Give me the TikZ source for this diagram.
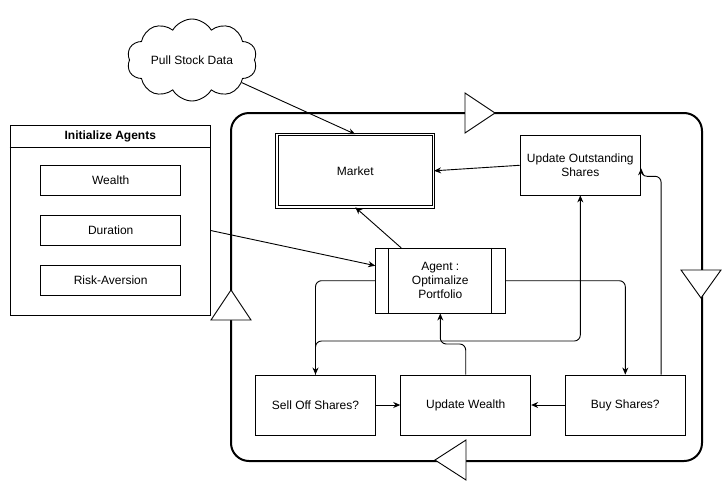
\documentclass[tikz,border=0pt]{standalone}
\usepackage{fontspec}
\setmainfont{Liberation Sans}
\usetikzlibrary{arrows.meta,shapes.symbols}

\begin{document}
\begin{tikzpicture}[x=1pt, y=-1pt, line width=0.9pt,
  every node/.style={font=\fontsize{12}{14}\selectfont, inner sep=0pt, align=center},
  stepbox/.style={draw, minimum width=120pt, minimum height=60pt},
  attrbox/.style={draw, minimum width=140pt, minimum height=29.5pt},
  linkarrow/.style={-{Stealth[length=7pt,width=6pt]}, rounded corners=6pt},
  tri/.style={draw, fill=white, line join=miter}]

  \useasboundingbox (0,0) rectangle (722,490);

  % trading loop
  \draw[line width=2pt, rounded corners=18pt] (231,113) rectangle (702,461);
  \draw[tri] (465,93) -- (495,113) -- (465,133) -- cycle;
  \draw[tri] (681,270) -- (721,270) -- (701,298) -- cycle;
  \draw[tri] (466,440) -- (435,460) -- (466,480) -- cycle;
  \draw[tri] (211,320) -- (231,290) -- (251,320) -- cycle;

  \node[draw, cloud, cloud puffs=10, cloud puff arc=120, aspect=1.8,
        minimum width=130pt, minimum height=74pt] (cloud) at (192,60) {Pull Stock Data};

  % agent set-up
  \node[draw, minimum width=200.7pt, minimum height=190pt] (init) at (110.3,220) {};
  \draw ([yshift=-23.3pt]init.north west) -- ([yshift=-23.3pt]init.north east);
  \node[font=\fontsize{12}{14}\selectfont\bfseries] (title) at (110.3,136.7) {Initialize Agents};
  \node[attrbox] (wealthattr) at (110.7,180.3) {Wealth};
  \node[attrbox] (duration) at (110.7,230.3) {Duration};
  \node[attrbox] (risk) at (110.7,280.3) {Risk-Aversion};

  \node[draw, double, double distance=1.6pt, line width=0.8pt,
        minimum width=156.7pt, minimum height=72.3pt] (market) at (355.3,170.8) {Market};
  \node[stepbox, minimum width=120.7pt, minimum height=59.3pt] (uos) at (580.3,165.3) {Update Outstanding\\Shares};
  \node[stepbox, minimum width=129.3pt, minimum height=64.7pt] (agent) at (440.3,280.7) {Agent :\\Optimalize\\Portfolio};
  \draw ([xshift=13.6pt]agent.north west) -- ([xshift=13.6pt]agent.south west);
  \draw ([xshift=-13.6pt]agent.north east) -- ([xshift=-13.6pt]agent.south east);

  \node[stepbox, minimum width=119.6pt] (sell) at (315.5,405) {Sell Off Shares?};
  \node[stepbox, minimum width=130pt] (wealth) at (465.7,405) {Update Wealth};
  \node[stepbox, minimum width=120.7pt] (buy) at (625.3,405) {Buy Shares?};

  \coordinate (sellbend) at (0,341);
  \coordinate (wealthbend) at (0,344);

  \draw[linkarrow] (cloud) -- (market.north);
  \draw[linkarrow] (init.-6) -- (agent.167);
  \draw[linkarrow] (agent.140) -- (market.south);
  \draw[linkarrow] (uos.west) -- (market.east);
  \draw[linkarrow] (agent.west) -| (sell.north);
  \draw[linkarrow] (agent.east) -| (buy.north);
  \draw[linkarrow] (sell.north) |- (uos.south |- sellbend) -- (uos.south);
  \draw[linkarrow] (wealth.north) |- (agent.south |- wealthbend) -- (agent.south);
  \draw[linkarrow] ([xshift=-25pt]buy.north east) |- ([yshift=-11pt]uos.east) -- ([yshift=-3pt]uos.east);
  \draw[linkarrow] (sell.east) -- (wealth.west);
  \draw[linkarrow] (buy.west) -- (wealth.east);

\end{tikzpicture}
\end{document}
